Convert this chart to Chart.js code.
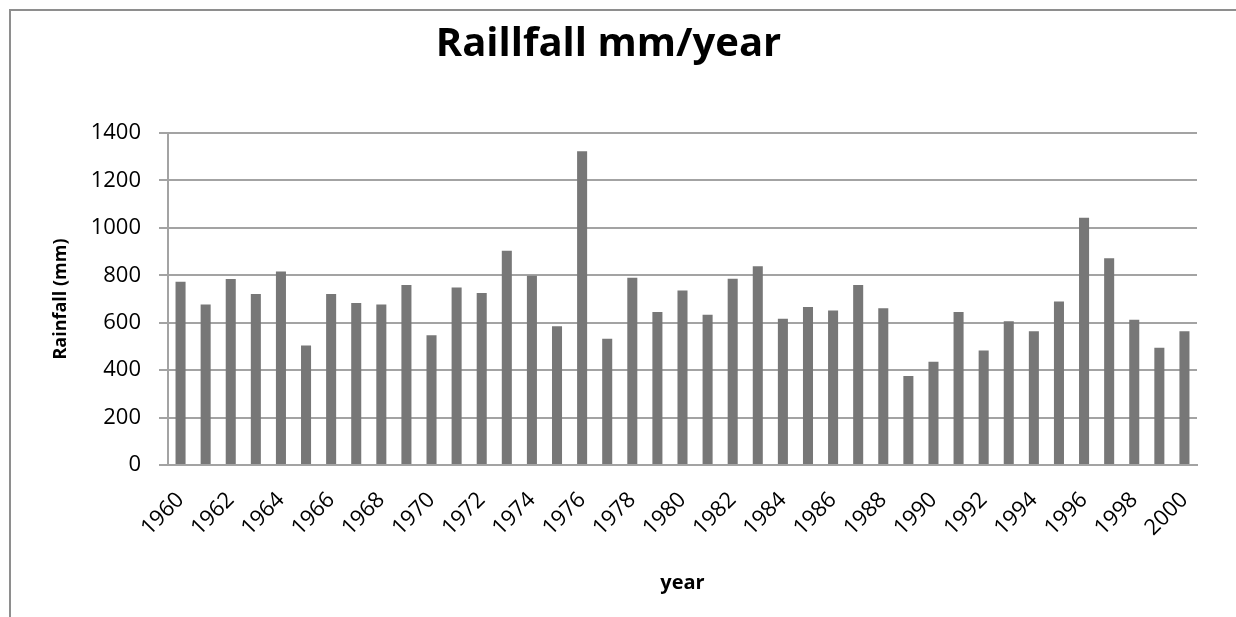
<!DOCTYPE html>
<html>
<head>
<meta charset="utf-8">
<title>Raillfall mm/year</title>
<script src="https://cdn.jsdelivr.net/npm/chart.js@4"></script>
<style>
  html, body { margin: 0; padding: 0; background: #ffffff; overflow: hidden; }
  #wrap { position: relative; width: 1236px; height: 617px; }
  #frame {
    position: absolute; left: 9px; top: 9px; width: 1400px; height: 800px;
    border: 2px solid #8e8e8e; box-sizing: border-box;
  }
  canvas { position: absolute; left: 0; top: 0; }
</style>
</head>
<body>
<div id="wrap">
  <div id="frame"></div>
  <canvas id="chart" width="1236" height="617"></canvas>
</div>
<script>
// Annual rainfall, 1960-2000
const years = [
  1960, 1961, 1962, 1963, 1964, 1965, 1966, 1967, 1968, 1969,
  1970, 1971, 1972, 1973, 1974, 1975, 1976, 1977, 1978, 1979,
  1980, 1981, 1982, 1983, 1984, 1985, 1986, 1987, 1988, 1989,
  1990, 1991, 1992, 1993, 1994, 1995, 1996, 1997, 1998, 1999,
  2000
];
const rainfall = [
  773, 677, 784, 721, 816, 504, 721, 683, 677, 759,
  547, 748, 725, 903, 798, 585, 1323, 532, 790, 645,
  736, 634, 785, 838, 617, 666, 651, 759, 661, 375,
  435, 645, 483, 606, 564, 689, 1043, 872, 613, 494,
  564
];
const yTicks = [0, 200, 400, 600, 800, 1000, 1200, 1400];

const FONT = '"Open Sans", Lato, "DejaVu Sans", sans-serif';
const GRID = '#a3a3a3';

new Chart(document.getElementById('chart'), {
  type: 'bar',
  data: {
    labels: years.map(String),
    datasets: [{
      label: 'Rainfall (mm)',
      data: rainfall,
      backgroundColor: '#777777',
      borderWidth: 0,
      barPercentage: 0.8,
      categoryPercentage: 0.5
    }]
  },
  options: {
    responsive: false,
    animation: false,
    devicePixelRatio: 1,
    layout: { padding: { left: 20, right: 39, top: 10, bottom: 0 } },
    plugins: {
      legend: { display: false },
      tooltip: { enabled: false },
      title: {
        display: true,
        text: 'Raillfall mm/year',
        color: '#000000',
        font: { family: FONT, size: 40, weight: 'bold' },
        padding: { top: 11, bottom: 64 }
      }
    },
    scales: {
      x: {
        offset: true,
        grid: { display: false, drawTicks: false },
        border: { display: true, color: GRID, width: 2 },
        ticks: {
          autoSkip: false,
          minRotation: 45,
          maxRotation: 45,
          padding: 22,
          color: '#000000',
          font: { family: FONT, size: 22 },
          // every second year is labelled
          callback: function (value, index) {
            const y = years[index];
            return y % 2 === 0 ? String(y) : '';
          }
        },
        title: {
          display: true,
          text: 'year',
          color: '#000000',
          font: { family: FONT, size: 20, weight: 'bold' },
          padding: { top: 0, bottom: 22 }
        },
        afterFit(scale) { scale.height = 152; }
      },
      y: {
        min: 0,
        max: 1400,
        afterBuildTicks(scale) { scale.ticks = yTicks.map(v => ({ value: v })); },
        grid: { color: GRID, lineWidth: 2, drawTicks: true, tickLength: 9, tickColor: GRID },
        border: { display: true, color: GRID, width: 2 },
        ticks: {
          padding: 18,
          color: '#000000',
          font: { family: FONT, size: 22 },
          callback: function (value) { return String(value); }
        },
        title: {
          display: true,
          text: 'Rainfall (mm)',
          color: '#000000',
          font: { family: FONT, size: 18, weight: 'bold' },
          padding: { top: 30, bottom: 0 }
        },
        afterFit(scale) { scale.width = 148; }
      }
    }
  }
});
</script>
</body>
</html>
